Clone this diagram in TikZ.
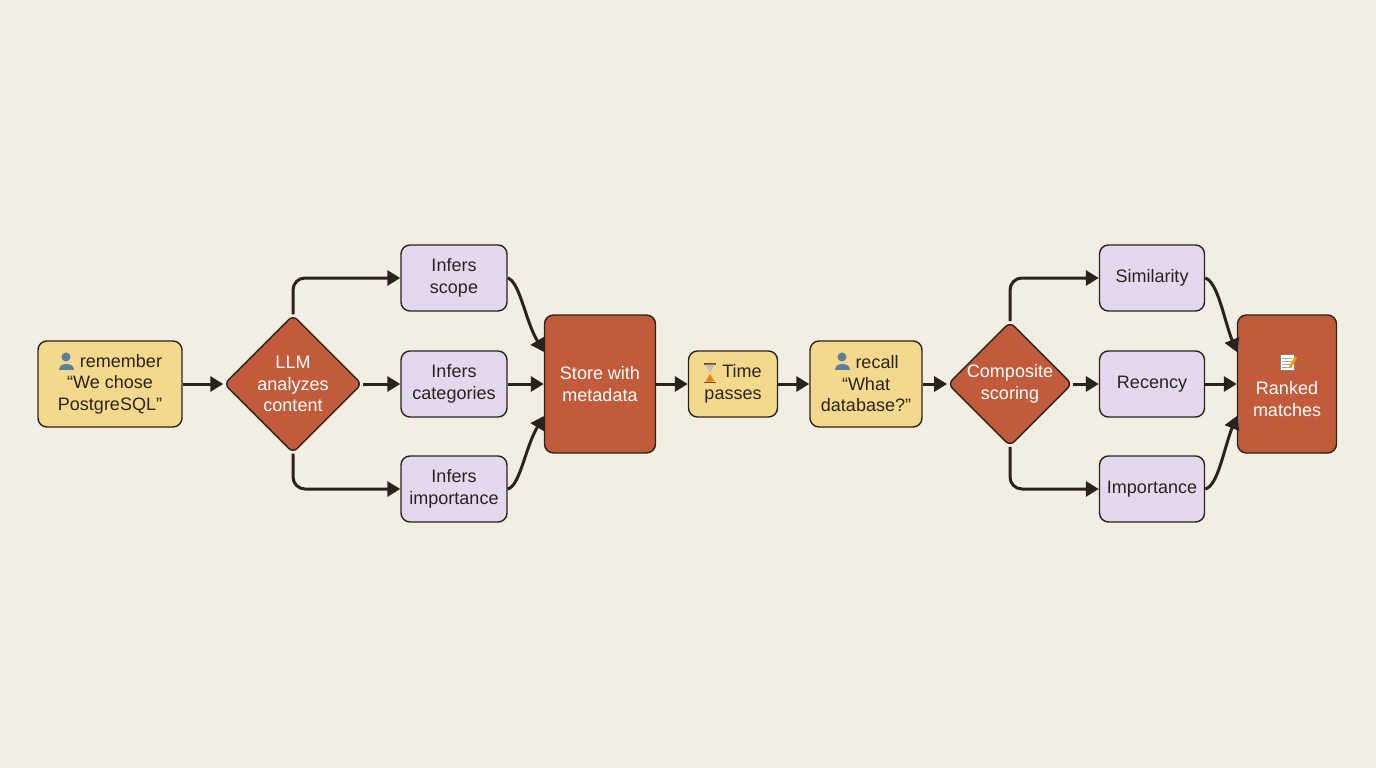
\documentclass[tikz,border=0pt]{standalone}
\usepackage{fontspec}
\setmainfont{Liberation Sans}
\usetikzlibrary{shapes.geometric,arrows.meta}
\definecolor{bg}{HTML}{F3EEE3}
\definecolor{yel}{HTML}{F4D98C}
\definecolor{org}{HTML}{C25B3B}
\definecolor{pur}{HTML}{E4D8EE}
\definecolor{ink}{HTML}{2A231C}
\definecolor{usr}{HTML}{5A7E9E}
\begin{document}
\begin{tikzpicture}[x=1pt,y=-1pt,
  base/.style={draw=ink,line width=1.4pt,rounded corners=9pt,align=center,inner sep=0pt,font=\fontsize{18}{21.5}\selectfont,text=ink},
  yb/.style={base,fill=yel},
  pb/.style={base,fill=pur,minimum width=106pt,minimum height=66pt},
  ob/.style={base,fill=org,text=white,minimum width=111pt,minimum height=138pt},
  dia/.style={diamond,draw=ink,line width=1.4pt,fill=org,text=white,align=center,inner sep=0pt,rounded corners=6pt,font=\fontsize{18}{21.5}\selectfont},
  arr/.style={draw=ink,line width=3pt,-{Triangle[length=13pt,width=15pt]}},
  person/.pic={\fill[usr] (0,-5) circle (4.5); \fill[usr] (-7.5,8) .. controls (-7.5,0) and (7.5,0) .. (7.5,8) -- cycle;},
  hour/.pic={\fill[brown!60!black] (-6,-10) rectangle (6,-8.5); \fill[brown!60!black] (-6,8.5) rectangle (6,10);
    \fill[gray!50] (-4.5,-8.5) -- (4.5,-8.5) -- (0,0) -- cycle; \fill[orange!70!brown] (-4.5,8.5) -- (4.5,8.5) -- (0,1) -- cycle;},
  memo/.pic={\fill[white,draw=gray] (-7,-8) rectangle (7,8); \foreach \yy in {-4,-1,2,5}{\draw[gray!70] (-5,\yy) -- (5,\yy);}
    \fill[orange!80!yellow] (2,4) -- (8,-6) -- (10,-4) -- (4,6) -- cycle;}
]
\fill[bg] (0,0) rectangle (1376,768);
\useasboundingbox (0,0) rectangle (1376,768);

\node[yb,minimum width=144pt,minimum height=86pt] (rem) at (110,384) {\hspace*{22pt}remember\\``We chose\\PostgreSQL''};
\pic at (66,362) {person};
\node[dia,minimum width=138pt,minimum height=138pt] (llm) at (293,384) {LLM\\analyzes\\content};
\node[pb] (sc) at (454,278) {Infers\\scope};
\node[pb] (ca) at (454,384) {Infers\\categories};
\node[pb] (im) at (454,489) {Infers\\importance};
\node[ob] (st) at (600,384) {Store with\\metadata};
\node[yb,minimum width=89pt,minimum height=66pt] (tp) at (733,384) {\hspace*{18pt}Time\\passes};
\pic at (710,373) {hour};
\node[yb,minimum width=112pt,minimum height=86pt] (rc) at (866,384) {\hspace*{22pt}recall\\``What\\database?''};
\pic at (842,362) {person};
\node[dia,minimum width=113pt,minimum height=113pt] (cs) at (1010,384) {Composite\\scoring};
\node[pb,minimum width=105pt] (si) at (1152,278) {Similarity};
\node[pb,minimum width=105pt] (re) at (1152,384) {Recency};
\node[pb,minimum width=105pt] (ip) at (1152,489) {Importance};
\node[ob,minimum width=99pt] (rk) at (1287,384) {\rule{0pt}{22pt}\\Ranked\\matches};
\pic at (1287,362) {memo};

\draw[arr] (rem) -- (llm);
\draw[arr,rounded corners=12pt] (llm.north) |- (sc.west);
\draw[arr] (llm) -- (ca);
\draw[arr,rounded corners=12pt] (llm.south) |- (im.west);
\draw[arr] (sc.east) .. controls (520,282) and (525,320) .. (st.west |- 0,352);
\draw[arr] (ca) -- (st);
\draw[arr] (im.east) .. controls (520,486) and (525,448) .. (st.west |- 0,416);
\draw[arr] (st) -- (tp);
\draw[arr] (tp) -- (rc);
\draw[arr] (rc) -- (cs);
\draw[arr,rounded corners=12pt] (cs.north) |- (si.west);
\draw[arr] (cs) -- (re);
\draw[arr,rounded corners=12pt] (cs.south) |- (ip.west);
\draw[arr] (si.east) .. controls (1218,282) and (1224,320) .. (rk.west |- 0,352);
\draw[arr] (re) -- (rk);
\draw[arr] (ip.east) .. controls (1218,486) and (1224,448) .. (rk.west |- 0,416);
\end{tikzpicture}
\end{document}
